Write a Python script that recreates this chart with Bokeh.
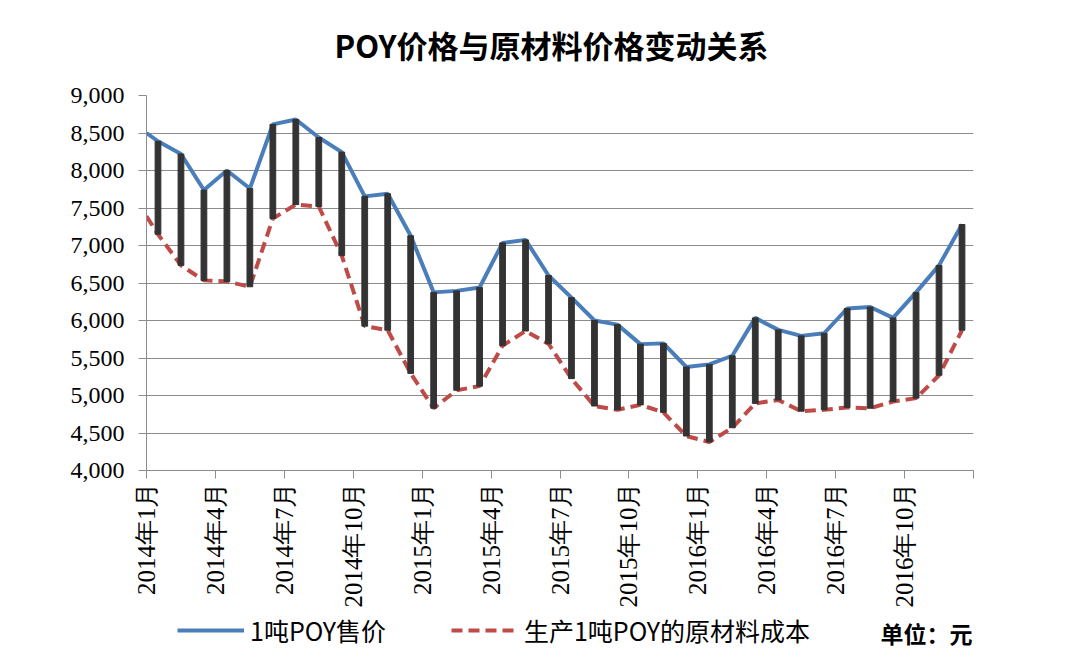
from bokeh.plotting import figure
from bokeh.layouts import column
from bokeh.models import (Range1d, FixedTicker, NumeralTickFormatter, Label,
                          Legend, LegendItem, ColumnDataSource)
from bokeh.embed import file_html
from bokeh.resources import INLINE
import math

# ---------------- data ----------------
months = [f"{y}年{m}月" for y in (2014, 2015, 2016) for m in range(1, 13)]

poy_price = [8390, 8220, 7740, 8000, 7760, 8615, 8680, 8440, 8245, 7655, 7690, 7130,
             6375, 6395, 6440, 7035, 7075, 6600, 6305, 6000, 5945, 5685, 5695, 5380,
             5415, 5530, 6035, 5875, 5795, 5830, 6160, 6180, 6035, 6375, 6735, 7280]

material_cost = [7150, 6735, 6535, 6520, 6450, 7360, 7545, 7520, 6865, 5925, 5870, 5295,
                 4830, 5070, 5125, 5665, 5860, 5690, 5225, 4860, 4810, 4875, 4775, 4460,
                 4380, 4570, 4895, 4940, 4790, 4810, 4840, 4830, 4920, 4965, 5270, 5870]

# value where each line enters at the left edge of the axis
poy_start = 8500
cost_start = 7390

y_ticks = list(range(4000, 9001, 500))
tick_step = 3

title_text = "POY价格与原材料价格变动关系"
legend_poy = "1吨POY售价"
legend_cost = "生产1吨POY的原材料成本"
unit_text = "单位：元"

BLUE, RED, BAR = "#4a7ebb", "#be4b48", "#333333"

# ---------------- derived ----------------
n = len(months)
bar_x = [i + 0.5 for i in range(n)]
line_x = [0] + bar_x
poy_line = [poy_start] + poy_price
cost_line = [cost_start] + material_cost

W = 1070
TOP_H = 70            # title strip
MAIN_H = 540          # plot + x labels
LEG_H = 44            # legend strip
FL, FT, FR, FB = 146, 95 - TOP_H, 973, 475 - TOP_H   # frame edges inside the main figure


def blank(h):
    f = figure(width=W, height=h, output_backend="svg", toolbar_location=None,
               x_range=Range1d(0, 1), y_range=Range1d(0, 1),
               min_border_left=FL, min_border_right=W - FR,
               min_border_top=0, min_border_bottom=0)
    f.axis.visible = False
    f.grid.visible = False
    f.outline_line_color = None
    f.background_fill_color = "white"
    f.border_fill_color = "white"
    return f


# ---------------- title strip ----------------
pt = blank(TOP_H)
pt.add_layout(Label(x=551 - FL, y=TOP_H - 44, x_units="screen", y_units="screen",
                    text=title_text, text_align="center", text_baseline="middle",
                    text_font="Noto Sans CJK SC", text_font_style="bold",
                    text_font_size="31px", text_color="black"))

# ---------------- main plot ----------------
p = figure(width=W, height=MAIN_H, output_backend="svg", toolbar_location=None,
           x_range=Range1d(0, n), y_range=Range1d(4000, 9000),
           min_border_left=FL, min_border_top=FT,
           min_border_right=W - FR, min_border_bottom=MAIN_H - FB)
p.outline_line_color = None
p.background_fill_color = "white"
p.border_fill_color = "white"

p.xgrid.grid_line_color = None
p.ygrid.grid_line_color = "#8c8c8c"
p.ygrid.grid_line_width = 1

p.yaxis.ticker = FixedTicker(ticks=y_ticks)
p.yaxis.formatter = NumeralTickFormatter(format="0,0")
p.yaxis.axis_line_color = "#8c8c8c"
p.yaxis.major_tick_line_color = "#8c8c8c"
p.yaxis.major_tick_out = 8
p.yaxis.major_tick_in = 0
p.yaxis.minor_tick_line_color = None
p.yaxis.major_label_standoff = 14
p.yaxis.major_label_text_font = "Liberation Serif"
p.yaxis.major_label_text_font_size = "24px"
p.yaxis.major_label_text_color = "black"

xt = list(range(0, n + 1, tick_step))
p.xaxis.ticker = FixedTicker(ticks=xt)
p.xaxis.major_label_overrides = {t: (months[t] if t < n else "") for t in xt}
p.xaxis.major_label_orientation = math.pi / 2
p.xaxis.axis_line_color = "#8c8c8c"
p.xaxis.major_tick_line_color = "#8c8c8c"
p.xaxis.major_tick_out = 8
p.xaxis.major_tick_in = 0
p.xaxis.minor_tick_line_color = None
p.xaxis.major_label_standoff = 4
p.xaxis.major_label_text_font = "Liberation Serif"
p.xaxis.major_label_text_font_size = "25px"
p.xaxis.major_label_text_color = "black"

p.line(line_x, poy_line, line_color=BLUE, line_width=4)
p.line(line_x, cost_line, line_color=RED, line_width=4, line_dash="11 6")

src = ColumnDataSource(dict(x=bar_x, top=poy_price, bottom=material_cost))
p.vbar(x="x", top="top", bottom="bottom", width=0.25, source=src,
       fill_color=BAR, line_color=BAR)

# ---------------- legend strip ----------------
pl = blank(LEG_H)
nan = float("nan")
k_poy = pl.line([nan], [nan], line_color=BLUE, line_width=4)
k_cost = pl.line([nan], [nan], line_color=RED, line_width=4, line_dash="11 6")
legend = Legend(items=[LegendItem(label=legend_poy, renderers=[k_poy]),
                       LegendItem(label=legend_cost, renderers=[k_cost])],
                orientation="horizontal", location=(180 - FL - 3, 6),
                glyph_width=67, glyph_height=24, label_standoff=6, spacing=65,
                padding=3, margin=0, border_line_color=None,
                background_fill_alpha=0,
                label_text_font="Noto Sans CJK SC", label_text_font_size="25px",
                label_text_color="black")
pl.add_layout(legend, "center")
pl.add_layout(Label(x=FR - FL - 1, y=LEG_H - (632 - (TOP_H + MAIN_H)), x_units="screen",
                    y_units="screen", text=unit_text, text_align="right",
                    text_baseline="middle", text_font="Noto Sans CJK SC",
                    text_font_style="bold", text_font_size="23px",
                    text_color="black"))

open("out.html", "w").write(file_html(column(pt, p, pl, spacing=0), INLINE))
